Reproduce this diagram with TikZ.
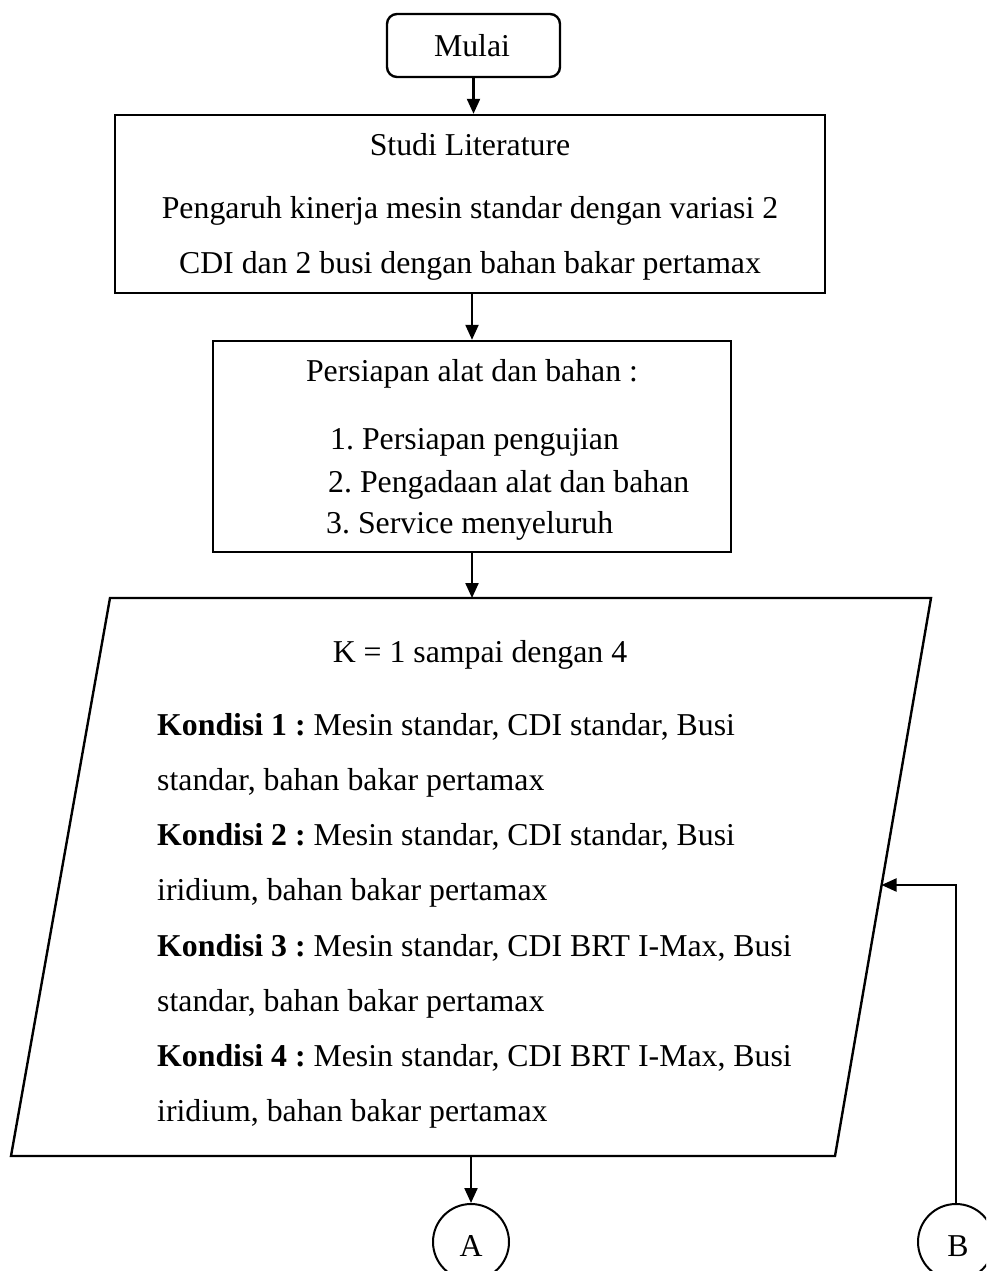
\documentclass[tikz,border=0pt]{standalone}
\usepackage{fontspec}
\setmainfont{Liberation Serif}
\usetikzlibrary{arrows.meta}
\frenchspacing
\begin{document}
\begin{tikzpicture}[x=1pt,y=-1pt,
  boxst/.style={draw,line width=2.4pt,rectangle,inner sep=0pt},
  txt/.style={font=\fontsize{31.8pt}{38pt}\selectfont\frenchspacing,inner sep=0pt,anchor=base},
  txtl/.style={txt,anchor=base west},
  arr/.style={-{Triangle[length=15pt,width=13pt]},line width=2.2pt},
  circst/.style={draw,circle,line width=2pt,minimum size=76pt,inner sep=0pt}]
\useasboundingbox (0,0) rectangle (986,1271);
\clip (0,0) rectangle (986,1271);
% start
\node[boxst,rounded corners=10pt,minimum width=173pt,minimum height=63pt] (mulai) at (473.5,45.5) {};
\node[txt] (tmulai) at (472,57) {Mulai};
% studi literature
\node[boxst,minimum width=710pt,minimum height=178pt] (studi) at (470,204) {};
\node[txt] (t1) at (470,155) {Studi Literature};
\node[txt] (t2) at (470,218) {Pengaruh kinerja mesin standar dengan variasi 2};
\node[txt] (t3) at (470,273) {CDI dan 2 busi dengan bahan bakar pertamax};
% persiapan
\node[boxst,minimum width=518pt,minimum height=211pt] (persiapan) at (472,446.5) {};
\node[txt] (p0) at (472,381) {Persiapan alat dan bahan :};
\node[txtl] (p1) at (330,449) {1. Persiapan pengujian};
\node[txtl] (p2) at (328,492) {2. Pengadaan alat dan bahan};
\node[txtl] (p3) at (326,533) {3. Service menyeluruh};
% parallelogram
\coordinate (ptl) at (110,598);
\coordinate (ptr) at (931,598);
\coordinate (pbr) at (835,1156);
\coordinate (pbl) at (11,1156);
\coordinate (ptop) at (472,598);
\coordinate (pbot) at (471,1156);
\coordinate (pright) at (881.5,885);
\draw[line width=2.4pt,line join=miter] (ptl) -- (ptr) -- (pbr) -- (pbl) -- cycle;
\node[txt] (k0) at (480,662) {K = 1 sampai dengan 4};
\node[txtl] (k1) at (157,735) {\textbf{Kondisi 1 :} Mesin standar, CDI standar, Busi};
\node[txtl] (k1b) at (157,790) {standar, bahan bakar pertamax};
\node[txtl] (k2) at (157,845) {\textbf{Kondisi 2 :} Mesin standar, CDI standar, Busi};
\node[txtl] (k2b) at (157,900) {iridium, bahan bakar pertamax};
\node[txtl] (k3) at (157,956) {\textbf{Kondisi 3 :} Mesin standar, CDI BRT I-Max, Busi};
\node[txtl] (k3b) at (157,1011) {standar, bahan bakar pertamax};
\node[txtl] (k4) at (157,1066) {\textbf{Kondisi 4 :} Mesin standar, CDI BRT I-Max, Busi};
\node[txtl] (k4b) at (157,1121) {iridium, bahan bakar pertamax};
% connectors
\node[circst] (A) at (471,1242) {};
\node[txt] (tA) at (471,1256) {A};
\node[circst] (B) at (956,1242) {};
\node[txt] (tB) at (958,1256) {B};
\draw[arr] (mulai.south) -- (mulai.south |- studi.north);
\draw[arr] (persiapan.north |- studi.south) -- (persiapan.north);
\draw[arr] (persiapan.south) -- (ptop);
\draw[arr] (pbot) -- (A.north);
\draw[arr] (B.north) |- (pright);
\end{tikzpicture}
\end{document}
